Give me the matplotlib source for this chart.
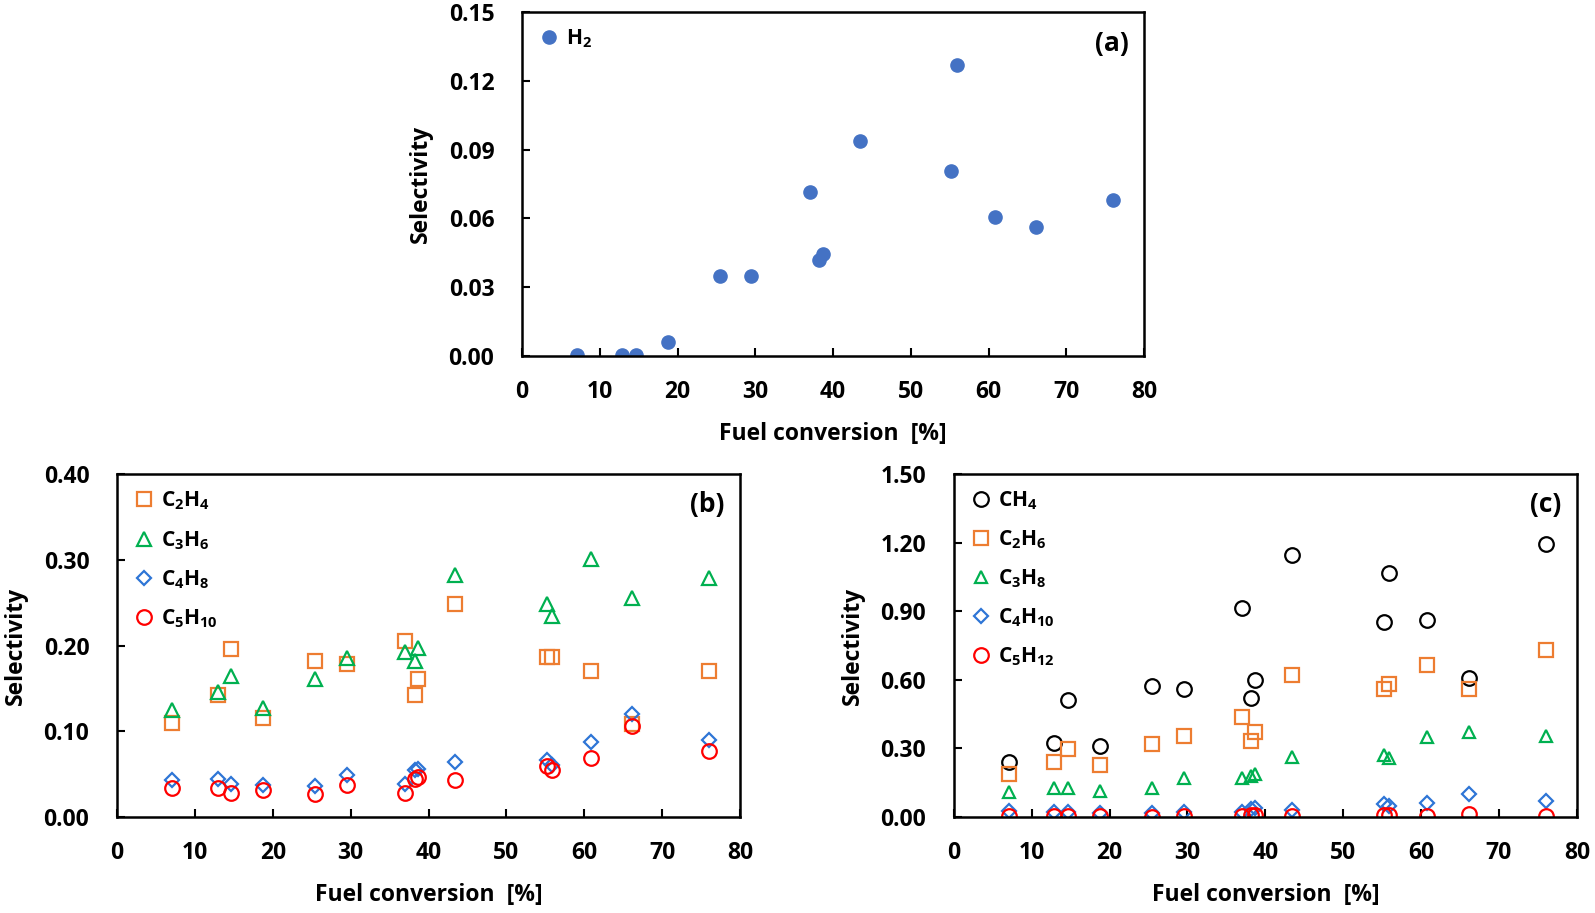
import numpy as np
import matplotlib.pyplot as plt

plt.rcParams['font.family'] = ['Open Sans', 'DejaVu Sans']
plt.rcParams['font.weight'] = 'bold'
plt.rcParams['mathtext.default'] = 'regular'

# fuel conversion [%] shared by all panels
conv = [7.1, 12.9, 14.6, 18.8, 25.4, 29.5, 37.0, 38.2, 38.7, 43.4, 55.2, 55.9, 60.8, 66.1, 76.0]

# (a) hydrogen
h2 = [0.0005, 0.0005, 0.0005, 0.0062, 0.035, 0.035, 0.0714, 0.0417, 0.0444, 0.0936, 0.0808, 0.127, 0.0608, 0.0564, 0.0679]

# (b) olefins
c2h4 = [0.110, 0.142, 0.196, 0.116, 0.182, 0.179, 0.205, 0.142, 0.161, 0.249, 0.187, 0.187, 0.170, 0.109, 0.170]
c3h6 = [0.125, 0.146, 0.165, 0.127, 0.161, 0.185, 0.193, 0.182, 0.197, 0.282, 0.249, 0.234, 0.301, 0.256, 0.279]
c4h8 = [0.043, 0.044, 0.039, 0.037, 0.036, 0.049, 0.039, 0.055, 0.056, 0.064, 0.066, 0.061, 0.087, 0.120, 0.090]
c5h10 = [0.034, 0.034, 0.028, 0.031, 0.027, 0.037, 0.028, 0.044, 0.047, 0.043, 0.060, 0.055, 0.069, 0.106, 0.077]

# (c) paraffins
ch4 = [0.240, 0.325, 0.512, 0.310, 0.574, 0.561, 0.912, 0.521, 0.601, 1.148, 0.854, 1.068, 0.863, 0.610, 1.193]
c2h6 = [0.187, 0.240, 0.298, 0.227, 0.320, 0.356, 0.436, 0.334, 0.374, 0.619, 0.561, 0.583, 0.663, 0.561, 0.730]
c3h8 = [0.111, 0.125, 0.129, 0.116, 0.129, 0.169, 0.169, 0.178, 0.187, 0.263, 0.271, 0.258, 0.352, 0.374, 0.356]
c4h10 = [0.027, 0.022, 0.022, 0.018, 0.018, 0.022, 0.022, 0.036, 0.040, 0.031, 0.058, 0.049, 0.062, 0.102, 0.071]
c5h12 = [0.004, 0.004, 0.004, 0.004, 0.001, 0.004, 0.004, 0.009, 0.009, 0.004, 0.009, 0.009, 0.004, 0.013, 0.004]

ORANGE = '#ED7D31'
GREEN = '#00B050'
BLUE = '#2E75D6'
RED = '#FF0000'

FS = 16.5


def style_axes(ax, ymax, ystep, tag):
    ax.set_xlim(0, 80)
    ax.set_ylim(0, ymax)
    ax.set_xticks(np.arange(0, 81, 10))
    ax.set_yticks(np.arange(0, ymax + ystep / 2, ystep))
    ax.yaxis.set_major_formatter(plt.FormatStrFormatter('%.2f'))
    ax.tick_params(direction='in', length=6, width=1.5, labelsize=FS)
    ax.tick_params(axis='x', pad=17)
    ax.tick_params(axis='y', pad=20)
    for lbl in ax.get_xticklabels() + ax.get_yticklabels():
        lbl.set_fontweight('bold')
    for s in ax.spines.values():
        s.set_linewidth(1.8)
    ax.set_xlabel('Fuel conversion  [%]', fontsize=FS, fontweight='bold', labelpad=13)
    ax.set_ylabel('Selectivity', fontsize=FS, fontweight='bold', labelpad=11)
    ax.text(0.975, 0.91, tag, transform=ax.transAxes, ha='right', va='center',
            fontsize=19, fontweight='bold')


def add_legend(ax, spacing):
    ax.legend(loc='upper left', frameon=False, handletextpad=0.25, labelspacing=spacing,
              borderaxespad=0.35, handlelength=1.1, prop={'weight': 'bold', 'size': 15})


fig = plt.figure(figsize=(15.95, 9.13), dpi=100)

# panel (a)
ax1 = fig.add_axes([0.3273, 0.610, 0.390, 0.3768])
ax1.plot(conv, h2, 'o', color='#4472C4', ms=9.5, label='H$_2$')
style_axes(ax1, 0.15, 0.03, '(a)')
add_legend(ax1, 0.7)

mk = dict(ls='none', mfc='none', mew=1.6)

# panel (b)
ax2 = fig.add_axes([0.0734, 0.1051, 0.3906, 0.3757])
ax2.plot(conv, c2h4, marker='s', ms=10, mec=ORANGE, label='C$_2$H$_4$', **mk)
ax2.plot(conv, c3h6, marker='^', ms=10, mec=GREEN, label='C$_3$H$_6$', **mk)
ax2.plot(conv, c4h8, marker='D', ms=7, mec=BLUE, label='C$_4$H$_8$', **mk)
ax2.plot(conv, c5h10, marker='o', ms=10.5, mec=RED, label='C$_5$H$_{10}$', **mk)
style_axes(ax2, 0.40, 0.10, '(b)')
add_legend(ax2, 0.8)

# panel (c)
ax3 = fig.add_axes([0.598, 0.1051, 0.3906, 0.3757])
ax3.plot(conv, ch4, marker='o', ms=10.5, mec='black', label='CH$_4$', **mk)
ax3.plot(conv, c2h6, marker='s', ms=10, mec=ORANGE, label='C$_2$H$_6$', **mk)
ax3.plot(conv, c3h8, marker='^', ms=9, mec=GREEN, label='C$_3$H$_8$', **mk)
ax3.plot(conv, c4h10, marker='D', ms=7, mec=BLUE, label='C$_4$H$_{10}$', **mk)
ax3.plot(conv, c5h12, marker='o', ms=10.5, mec=RED, label='C$_5$H$_{12}$', **mk)
style_axes(ax3, 1.50, 0.30, '(c)')
add_legend(ax3, 0.78)

fig.savefig('out.png', dpi=100)
